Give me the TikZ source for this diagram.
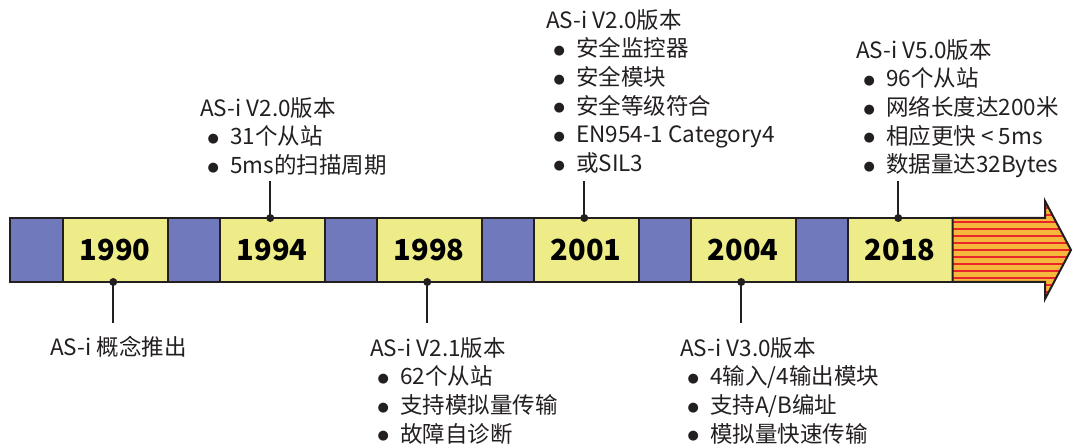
\documentclass[tikz,border=0pt]{standalone}
\usepackage{fontspec}
\setmainfont{Noto Sans CJK SC}
\newfontfamily\dotfont{DejaVu Sans}
\usetikzlibrary{matrix,calc}

\definecolor{gapblue}{HTML}{6F79BC}
\definecolor{yearyellow}{HTML}{EEEC88}
\definecolor{stripeorange}{HTML}{F5B83C}
\definecolor{stripered}{HTML}{E8262A}
\definecolor{inkgray}{HTML}{231F20}

\newcommand{\itm}{\hspace*{9pt}\makebox[8pt]{\raisebox{2.5pt}{\dotfont\fontsize{13}{13}\selectfont ●}}\hspace{13pt}}

\tikzset{gap/.style={fill=gapblue},
    year/.style={fill=yearyellow,minimum width=104.5pt,
        font=\fontsize{29}{35}\selectfont\bfseries},
    stem/.style={draw=inkgray,line width=2pt},
    note/.style={align=left,inner sep=0pt,text=inkgray,
        font=\fontsize{22.5}{28.7}\selectfont}}

\begin{document}
\begin{tikzpicture}[x=1pt,y=1pt]
        \useasboundingbox (0,0) rectangle (1073,444);

        \matrix (m) [
            matrix of nodes,
            nodes in empty cells,
            inner sep=0pt,
            column sep=-2pt,
            anchor=west, at={(9.3,194)},
            nodes={draw=inkgray,line width=2pt,inner sep=0pt,outer sep=0pt,
                anchor=center,minimum height=64pt,minimum width=52.5pt}
        ]
        { |[gap]| {} & |[year]| 1990 & |[gap]| {} & |[year]| 1994 &
          |[gap]| {} & |[year]| 1998 & |[gap]| {} & |[year]| 2001 &
          |[gap]| {} & |[year]| 2004 & |[gap]| {} & |[year]| 2018 \\
        };

        % arrow head with stripes
        \coordinate (hb) at (1045,194);
        \coordinate (tip) at (1071,194);
        \begin{scope}
            \clip (m-1-12.north east) -- (hb |- m-1-12.north) -- (1045,243) -- (tip)
                -- (1045,145) -- (hb |- m-1-12.south) -- (m-1-12.south east) -- cycle;
            \fill[stripeorange] (948,140) rectangle (1074,248);
            \foreach \k in {-8,...,7}
                \draw[stripered,line width=2.4pt] (948,194+7*\k) -- (1074,194+7*\k);
        \end{scope}
        \draw[inkgray,line width=2pt,line join=miter]
            (m-1-12.north east) -- (hb |- m-1-12.north) -- (1045,243) -- (tip)
            -- (1045,145) -- (hb |- m-1-12.south) -- (m-1-12.south east) -- cycle;

        % stems
        \foreach \c in {2,6,10} {
            \coordinate (s\c) at ($(m-1-\c.south)+(-2,-41)$);
            \draw[stem] (s\c |- m-1-\c.south) -- (s\c);
            \fill[inkgray] (s\c |- m-1-\c.south) circle (4pt);
        }
        \foreach \c in {4,8,12} {
            \coordinate (s\c) at ($(m-1-\c.north)+(-2,37)$);
            \draw[stem] (s\c |- m-1-\c.north) -- (s\c);
            \fill[inkgray] (s\c |- m-1-\c.north) circle (4pt);
        }

        % notes
        \node[note,anchor=west] (n1990) at (50,97) {AS-i 概念推出};
        \node[note,anchor=north west] (n1994) at (200,347)
            {AS-i V2.0版本\\ \itm 31个从站\\ \itm 5ms的扫描周期};
        \node[note,anchor=north west] (n1998) at (370,107)
            {AS-i V2.1版本\\ \itm 62个从站\\ \itm 支持模拟量传输\\ \itm 故障自诊断};
        \node[note,anchor=north west] (n2001) at (546,435)
            {AS-i V2.0版本\\ \itm 安全监控器\\ \itm 安全模块\\ \itm 安全等级符合\\
             \itm EN954-1 Category4\\ \itm 或SIL3};
        \node[note,anchor=north west] (n2004) at (680,107)
            {AS-i V3.0版本\\ \itm 4输入/4输出模块\\ \itm 支持A/B编址\\ \itm 模拟量快速传输};
        \node[note,anchor=north west] (n2018) at (856,405)
            {AS-i V5.0版本\\ \itm 96个从站\\ \itm 网络长度达200米\\ \itm 相应更快 < 5ms\\
             \itm 数据量达32Bytes};
\end{tikzpicture}
\end{document}
